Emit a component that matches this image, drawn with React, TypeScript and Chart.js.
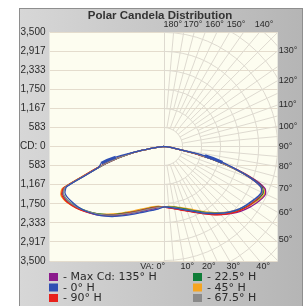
import React, { useEffect, useRef } from 'react';
import { Chart, registerables } from 'chart.js';

Chart.register(...registerables);

const TITLE = 'Polar Candela Distribution';
const MAX_CD = 3500;
const Y_TICK_LABELS = ['3,500', '2,917', '2,333', '1,750', '1,167', '583', 'CD: 0', '583', '1,167', '1,750', '2,333', '2,917', '3,500'];
const TOP_ANGLES = [180, 170, 160, 150, 140];
const RIGHT_ANGLES = [130, 120, 110, 100, 90, 80, 70, 60, 50];
const BOTTOM_ANGLES = [0, 10, 20, 30, 40];

// vertical angles (degrees from nadir)
const VA = [0, 5, 10, 15, 20, 25, 30, 35, 40, 45, 50, 55, 60, 62.5, 65, 67.5, 70, 72.5, 75, 77.5, 80, 85, 90];

const SERIES_NAMES = ['- Max Cd: 135° H', '- 0° H', '- 90° H', '- 22.5° H', '- 45° H', '- 67.5° H'];
const SERIES_COLORS = ['#8b1a8c', '#2f4fb3', '#e8211c', '#0f7d38', '#f5a41f', '#8a8a8a'];

// right half (plane H) candela values at VA
const PURPLE_R = [1850, 1880, 1930, 2000, 2090, 2210, 2360, 2530, 2720, 2900, 3080, 3230, 3360, 3420, 3450, 3370, 2980, 2380, 1680, 960, 400, 80, 0];
const BLUE_R = [1850, 1865, 1910, 1980, 2070, 2190, 2340, 2500, 2670, 2840, 2990, 3110, 3220, 3280, 3310, 3230, 2870, 2340, 1870, 1300, 450, 80, 0];
const RED_R = [1850, 1880, 1935, 2010, 2100, 2220, 2370, 2540, 2720, 2890, 3050, 3170, 3270, 3320, 3340, 3240, 2850, 2290, 1620, 940, 400, 80, 0];
const GREEN_R = [1850, 1850, 1885, 1950, 2040, 2160, 2310, 2480, 2660, 2850, 3020, 3160, 3280, 3340, 3370, 3280, 2890, 2320, 1640, 950, 400, 80, 0];
const ORANGE_R = [1850, 1840, 1870, 1930, 2010, 2130, 2280, 2450, 2640, 2830, 3020, 3180, 3320, 3390, 3420, 3340, 2960, 2370, 1660, 950, 400, 80, 0];
const GRAY_R = [1850, 1860, 1900, 1970, 2060, 2180, 2330, 2490, 2660, 2830, 2990, 3120, 3240, 3300, 3330, 3240, 2860, 2300, 1640, 950, 400, 80, 0];

// left half (plane H + 180) candela values at VA
const PURPLE_L = [1850, 1885, 1940, 2020, 2120, 2250, 2400, 2580, 2760, 2940, 3100, 3260, 3380, 3420, 3420, 3300, 2550, 2050, 1600, 1150, 650, 120, 0];
const BLUE_L = [1850, 1920, 1980, 2060, 2160, 2290, 2440, 2610, 2780, 2940, 3090, 3210, 3300, 3340, 3340, 3220, 2500, 2080, 1980, 1500, 700, 120, 0];
const RED_L = [1850, 1860, 1905, 1985, 2085, 2215, 2370, 2550, 2740, 2930, 3110, 3280, 3410, 3450, 3450, 3330, 2580, 2070, 1610, 1150, 650, 120, 0];
const GREEN_L = [1850, 1855, 1900, 1975, 2075, 2205, 2355, 2535, 2715, 2900, 3070, 3230, 3360, 3400, 3400, 3280, 2530, 2040, 1590, 1140, 650, 120, 0];
const ORANGE_L = [1850, 1830, 1870, 1940, 2040, 2170, 2320, 2510, 2700, 2900, 3090, 3270, 3420, 3470, 3480, 3370, 2620, 2090, 1620, 1150, 650, 120, 0];
const GRAY_L = [1850, 1870, 1920, 2000, 2100, 2230, 2380, 2555, 2735, 2910, 3075, 3235, 3360, 3395, 3395, 3275, 2530, 2040, 1590, 1140, 650, 120, 0];

const SERIES_R = [PURPLE_R, BLUE_R, RED_R, GREEN_R, ORANGE_R, GRAY_R];
const SERIES_L = [PURPLE_L, BLUE_L, RED_L, GREEN_L, ORANGE_L, GRAY_L];
const DRAW_ORDER = [5, 1, 3, 4, 6, 2];
// the 0° H curve is drawn heavier between these vertical angles
const BLUE_HEAVY_VA = [75, 77.5];

const H_GRID = '#e4dccd';
const P_GRID = '#dedad0';
const TEXT = '#2a2a2a';
const FONT = '"DejaVu Sans", sans-serif';
const SMALL_FONT = '9px "Liberation Sans", sans-serif';

const rad = (d: number) => (d * Math.PI) / 180;

function polarPoints(left: number[], right: number[]) {
  const pts: { x: number; y: number; va: number }[] = [];
  for (let i = VA.length - 1; i >= 0; i--) {
    const a = rad(VA[i]);
    pts.push({ x: -left[i] * Math.sin(a), y: -left[i] * Math.cos(a), va: VA[i] });
  }
  for (let i = 1; i < VA.length; i++) {
    const a = rad(VA[i]);
    pts.push({ x: right[i] * Math.sin(a), y: -right[i] * Math.cos(a), va: VA[i] });
  }
  return pts;
}

const bgPlugin = {
  id: 'bgPanel',
  beforeDraw(chart: any) {
    const { ctx, chartArea: a, width, height } = chart;
    ctx.save();
    ctx.fillStyle = '#ffffff';
    ctx.fillRect(0, 0, width, height);
    const g = ctx.createLinearGradient(19, 0, 303, 0);
    g.addColorStop(0, '#d7d7d7');
    g.addColorStop(1, '#b5b5b5');
    ctx.fillStyle = g;
    ctx.fillRect(19, 8, 284, 298);
    ctx.strokeStyle = '#8e8e8e';
    ctx.lineWidth = 1;
    ctx.beginPath();
    ctx.moveTo(19.5, 8);
    ctx.lineTo(19.5, 306);
    ctx.moveTo(302.5, 8);
    ctx.lineTo(302.5, 306);
    ctx.moveTo(19, 8.5);
    ctx.lineTo(303, 8.5);
    ctx.stroke();
    ctx.fillStyle = '#fdfdf0';
    ctx.fillRect(a.left, a.top, a.right - a.left, a.bottom - a.top);
    ctx.restore();
  },
};

const polarGridPlugin = {
  id: 'polarGrid',
  beforeDatasetsDraw(chart: any) {
    const { ctx, chartArea: a, scales } = chart;
    const cx = scales.x.getPixelForValue(0);
    const cy = scales.y.getPixelForValue(0);
    const unit = scales.x.getPixelForValue(MAX_CD / 6) - cx;
    ctx.save();
    ctx.beginPath();
    ctx.rect(a.left, a.top, a.right - a.left, a.bottom - a.top);
    ctx.clip();
    ctx.strokeStyle = P_GRID;
    ctx.lineWidth = 1;
    ctx.beginPath();
    ctx.moveTo(Math.round(cx) + 0.5, a.top);
    ctx.lineTo(Math.round(cx) + 0.5, a.bottom);
    ctx.stroke();
    for (let k = 1; k <= 9; k++) {
      ctx.beginPath();
      ctx.arc(cx, cy, k * unit, -Math.PI / 2, Math.PI / 2, false);
      ctx.stroke();
    }
    for (let d = 5; d < 180; d += 5) {
      const r0 = d % 10 === 0 ? unit : 2 * unit;
      const s = Math.sin(rad(d));
      const c = Math.cos(rad(d));
      ctx.beginPath();
      ctx.moveTo(cx + r0 * s, cy + r0 * c);
      ctx.lineTo(cx + 400 * s, cy + 400 * c);
      ctx.stroke();
    }
    ctx.restore();
  },
};

const labelPlugin = {
  id: 'labels',
  afterDraw(chart: any) {
    const { ctx, chartArea: a, scales } = chart;
    const cx = scales.x.getPixelForValue(0);
    const cy = scales.y.getPixelForValue(0);
    ctx.save();
    // title
    ctx.fillStyle = '#333333';
    ctx.font = 'bold 11.5px "Liberation Sans", sans-serif';
    ctx.textAlign = 'center';
    ctx.textBaseline = 'middle';
    ctx.fillText(TITLE, 160, 16);

    ctx.fillStyle = TEXT;
    ctx.font = SMALL_FONT;
    // top labels
    ctx.textAlign = 'left';
    TOP_ANGLES.forEach((d) => {
      const x = cx + (cy - a.top) * Math.tan(rad(180 - d));
      const shift = d === 150 ? 3 : d === 140 ? 5 : 0;
      ctx.fillText(d + '°', x - shift, a.top - 7);
    });
    // right labels
    RIGHT_ANGLES.forEach((d) => {
      let y = cy - (a.right - cx) * Math.tan(rad(d - 90));
      if (y > a.bottom - 21) y = a.bottom - 21;
      ctx.fillText(d + '°', a.right + 1, y);
    });
    // bottom labels
    BOTTOM_ANGLES.forEach((d) => {
      const x = cx + (a.bottom - cy) * Math.tan(rad(d));
      if (d === 0) {
        ctx.textAlign = 'right';
        ctx.fillText('VA: 0°', x + 1.5, a.bottom + 6);
      } else {
        ctx.textAlign = 'center';
        ctx.fillText(d + '°', x + 3.5, a.bottom + 6);
      }
    });
    // legend
    ctx.font = '11px ' + FONT;
    ctx.textAlign = 'left';
    SERIES_NAMES.forEach((name, i) => {
      const col = Math.floor(i / 3);
      const row = i % 3;
      const x0 = col === 0 ? 49 : 193;
      const y0 = 273 + row * 10.5;
      ctx.fillStyle = SERIES_COLORS[i];
      ctx.fillRect(x0, y0, 9, 8);
      ctx.fillStyle = TEXT;
      ctx.fillText(name, x0 + 14, y0 + 4.5);
    });
    ctx.restore();
  },
};

export default function App() {
  const ref = useRef<HTMLCanvasElement | null>(null);
  useEffect(() => {
    if (!ref.current) return;
    const datasets = SERIES_NAMES.map((name, i) => {
      const pts = polarPoints(SERIES_L[i], SERIES_R[i]);
      return {
        label: name,
        data: pts,
        showLine: true,
        borderColor: SERIES_COLORS[i],
        backgroundColor: SERIES_COLORS[i],
        borderWidth: 1.3,
        pointRadius: 0,
        tension: 0.2,
        order: DRAW_ORDER[i],
        segment:
          i === 1
            ? {
                borderWidth: (c: any) =>
                  BLUE_HEAVY_VA.includes(pts[c.p0DataIndex].va) && BLUE_HEAVY_VA.includes(pts[c.p1DataIndex].va)
                    ? 3
                    : 1.3,
              }
            : undefined,
      };
    });
    const chart = new Chart(ref.current, {
      type: 'scatter',
      data: { datasets },
      options: {
        animation: false,
        responsive: false,
        devicePixelRatio: 1,
        layout: { padding: { left: 19.5, right: 29.3, top: 32, bottom: 45 } },
        plugins: { legend: { display: false }, title: { display: false }, tooltip: { enabled: false } },
        scales: {
          x: { type: 'linear', min: -MAX_CD, max: MAX_CD, display: false },
          y: {
            type: 'linear',
            min: -MAX_CD,
            max: MAX_CD,
            afterBuildTicks: (s: any) => {
              s.ticks = Y_TICK_LABELS.map((_, i) => ({ value: -MAX_CD + (i * MAX_CD) / 6 }));
            },
            afterFit: (s: any) => {
              s.width = 30;
            },
            ticks: {
              autoSkip: false,
              padding: 4,
              color: TEXT,
              font: { family: '"Liberation Sans", sans-serif', size: 10 },
              callback: (v: any) => Y_TICK_LABELS[Math.round((MAX_CD - Number(v)) / (MAX_CD / 6))],
            },
            grid: { color: H_GRID, drawTicks: false },
            border: { display: false },
          },
        },
      },
      plugins: [bgPlugin, polarGridPlugin, labelPlugin],
    });
    return () => chart.destroy();
  }, []);
  return (
    <div style={{ position: 'fixed', left: 0, top: 0, width: 307, height: 306 }}>
      <canvas ref={ref} width={307} height={306} style={{ width: 307, height: 306, display: 'block' }} />
    </div>
  );
}
